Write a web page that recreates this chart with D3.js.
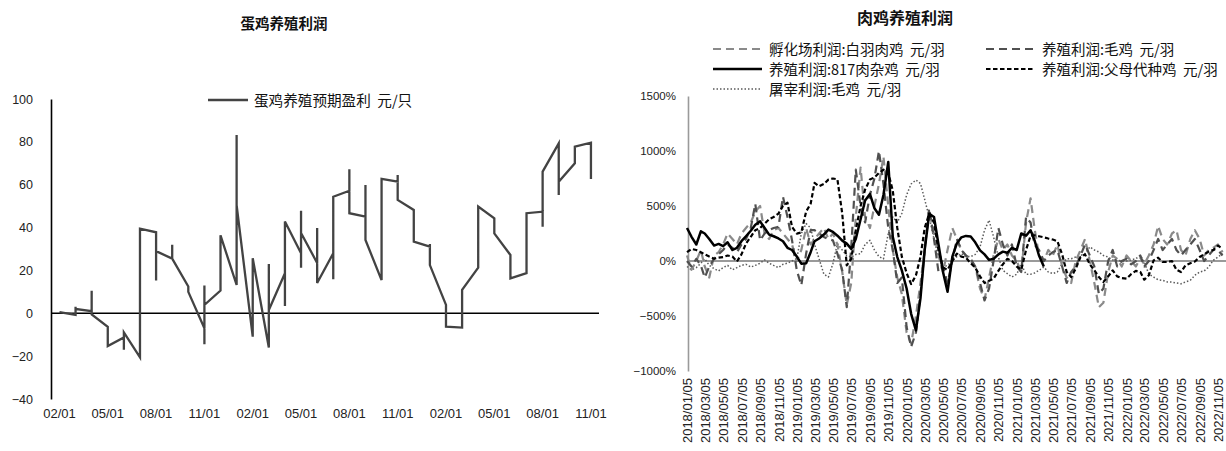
<!DOCTYPE html>
<html>
<head>
<meta charset="utf-8">
<script src="https://cdn.jsdelivr.net/npm/d3@7"></script>
<style>
  body { margin: 0; background: #fff; }
  svg { display: block; font-family: "Liberation Sans", Arial, sans-serif; }
  .cjk { font-family: "Noto Sans CJK SC", "Noto Sans", sans-serif; white-space: pre; }
</style>
</head>
<body>
<svg id="chart" width="1226" height="451"></svg>
<script>
// ---- left chart: egg layer profit (several weekly values per month) ----
const eggMonths = [
  "2020-02","2020-03","2020-04","2020-05","2020-06","2020-07","2020-08","2020-09","2020-10","2020-11","2020-12",
  "2021-01","2021-02","2021-03","2021-04","2021-05","2021-06","2021-07","2021-08","2021-09","2021-10","2021-11","2021-12",
  "2022-01","2022-02","2022-03","2022-04","2022-05","2022-06","2022-07","2022-08","2022-09","2022-10","2022-11"
];
const eggProfit = [
  [0.5], [-0.8, 3, 2], [1, 10.5, -0.5], [-6.3, -15.3], [-11.3, -17, -8.9], [-20.6, 39.5],
  [37.8, 15.3, 29], [25.5, 32, 25.5], [12.5, 10], [-7, 13, -14.4, 3.9], [10.6, 36.4],
  [13.2, 83.2, 50.5], [-10.9, 25.7], [-16, 23, 1.5], [18.7, 3.4, 42.8], [28, 21.3, 47.9, 37.5],
  [23.5, 39.8, 14.1], [28, 15.9, 54.4], [57.2, 67.2, 46.7], [45.1, 59.9, 34.2], [15.5, 62.7],
  [61.4, 64.5, 52.9], [48.2, 33.4], [31.1, 32.3, 22.5], [3.9, -6.2], [-6.7, 10.9], [21.3, 49.8],
  [44.3, 37.3], [27.2, 16.3], [18.7, 46.7], [47.4, 40.4, 66.1], [79.3, 55.2, 61.4], [70, 77.8], [79.6, 62.7]
];
const eggTicks = [-40, -20, 0, 20, 40, 60, 80, 100];

// ---- right chart: broiler profits, % (two readings per month, 2018-01 .. 2022-12) ----
const broilerTicks = [
  "2018/01/05","2018/03/05","2018/05/05","2018/07/05","2018/09/05","2018/11/05",
  "2019/01/05","2019/03/05","2019/05/05","2019/07/05","2019/09/05","2019/11/05",
  "2020/01/05","2020/03/05","2020/05/05","2020/07/05","2020/09/05","2020/11/05",
  "2021/01/05","2021/03/05","2021/05/05","2021/07/05","2021/09/05","2021/11/05",
  "2022/01/05","2022/03/05","2022/05/05","2022/07/05","2022/09/05","2022/11/05"
];
const pctTicks = [-1000, -500, 0, 500, 1000, 1500];

const hatchWhite = [
  50,-80, 0,100, -50,-150, 50,80, 150,250, 200,150, 250,300, 350,450, 500,250, 200,280, 300,250, 200,150,
  0,100, 300,150, 200,250, 300,200, 250,150, -100,-400, -200,400, 850,400, 300,500, 700,950, 500,100, -150,-300,
  -650,-750, -500,-200, 100,450, 250,50, -100,100, 300,200, 100,50, 0,-50, -250,-350, -150,50, 200,100, 150,50,
  0,-100, 350,570, 300,50, 0,100, 50,150, -50,-150, -200,0, 100,200, 0,-200, -420,-380, -100,50, 20,-50,
  50,0, -50,30, -30,50, 150,320, 200,150, 250,280, 100,50, 200,280, 200,50, 100,120, 150,80, null,null
];
const farmLive = [
  0,-50, 20,-40, -150,-50, 20,60, 100,150, 120,80, 150,200, 300,520, 188,250, 280,300, 310,584, 400,190,
  -85,-220, 67,280, 280,250, 219,200, 188,67, -85,-420, 128,830, 500,350, 600,750, 1000,700, 300,100, -200,-150,
  -600,-780, -650,-300, 100,480, 200,-100, -50,-200, 0,200, 100,50, 20,-50, -200,-358, -250,0, 300,150, 50,150,
  -50,-100, 400,350, 150,100, 0,50, 80,100, -50,-200, -100,-50, 50,150, 50,-50, -300,-250, 0,100, -50,0,
  20,-30, 0,50, -50,0, 100,200, 100,150, 200,100, 50,100, 150,200, 100,0, 50,100, 100,50, null,null
];
const farm817 = [
  300,220, 150,270, 250,200, 140,155, 135,170, 100,120, 180,225, 275,330, 360,300, 240,225, 205,180, 120,100,
  40,-24, -20,80, 180,205, 240,285, 265,230, 185,158, 110,200, 380,550, 610,480, 420,600, 900,220, 36,-85,
  -250,-480, -630,-340, 100,430, 400,150, -100,-280, 40,160, 215,228, 222,170, 97,60, 10,20, 60,85, 75,120,
  100,250, 230,280, 190,50, -50,null, null,null, null,null, null,null, null,null, null,null, null,null, null,null,
  null,null, null,null, null,null, null,null, null,null, null,null, null,null, null,null, null,null, null,null, null,null, null,null
];
const farmParent = [
  80,110, 100,80, 60,40, 20,30, 36,50, 40,-5, 60,158, 220,280, 300,340, 380,400, 431,500, 530,310,
  249,260, 450,520, 710,680, 700,740, 750,742, 431,-40, 20,280, 500,650, 740,760, 800,830, 800,640, 300,40,
  -110,-210, -130,36, 300,430, 350,100, -60,-80, 0,67, 40,30, -20,-60, -140,-200, -180,-160, -90,-30, 20,0,
  -50,-80, 100,230, 234,225, 215,204, 195,180, 60,-100, -146,-70, 36,60, -30,-85, -146,-190, -140,-85, -140,-155,
  -160,-120, -90,-100, -170,-130, 6,30, -9,-9, 0,-80, -100,-40, -20,-5, 36,60, 85,100, 140,110, null,null
];
const slaughterLive = [
  -50,-80, -60,-20, 20,-40, -70,-90, -60,-40, -80,-60, -40,-30, -55,-40, -20,10, -20,-40, -60,-30, -20,0,
  20,250, 340,300, 150,20, -120,-146, -24,158, 100,50, 36,60, 67,150, 188,100, 40,20, 250,400, 350,432,
  600,700, 736,705, 560,400, 200,36, -55,-40, 6,40, 67,40, 40,60, 128,280, 371,219, 36,-85, -115,-146,
  -120,-30, -120,-120, -110,-85, -55,-100, -115,-100, -24,20, 21,36, 50,67, 128,100, 82,50, 36,10, 6,0,
  0,10, 21,52, -9,-120, -146,-170, -176,-190, -192,-200, -207,-190, -176,-130, -100,-90, -55,6, 36,67, null,null
];

const svg = d3.select("#chart");

// ================= left chart =================
const eggX = d3.scaleBand().domain(eggMonths).range([51.4, 599]).paddingInner(0).paddingOuter(0);
const eggY = d3.scaleLinear().domain([-40, 100]).range([399, 99]);
const left = svg.append("g");

left.append("text").attr("class", "cjk")
  .attr("x", 284).attr("y", 29).attr("text-anchor", "middle")
  .attr("font-size", 14.5).attr("font-weight", "bold").attr("fill", "#111")
  .text("蛋鸡养殖利润");

left.append("g")
  .attr("transform", "translate(51,0)")
  .call(d3.axisLeft(eggY).tickValues(eggTicks).tickSize(0).tickSizeOuter(0).tickPadding(18))
  .call(g => g.select(".domain").attr("stroke", "#000").attr("stroke-width", 1.6))
  .call(g => g.selectAll("text").attr("font-size", 12.5).attr("fill", "#222").attr("font-family", "Liberation Sans, Arial, sans-serif"));

left.append("g")
  .attr("transform", "translate(0,401)")
  .call(d3.axisBottom(eggX)
    .tickValues(eggMonths.filter((d, i) => i % 3 === 0))
    .tickFormat(d => d.slice(5) + "/01")
    .tickSize(0).tickPadding(8))
  .call(g => g.select(".domain").remove())
  .call(g => g.selectAll("text").attr("font-size", 13).attr("fill", "#222").attr("font-family", "Liberation Sans, Arial, sans-serif"));

left.append("line")
  .attr("x1", 51).attr("x2", 599).attr("y1", eggY(0)).attr("y2", eggY(0))
  .attr("stroke", "#000").attr("stroke-width", 1.6);

const eggPoints = [];
eggMonths.forEach((m, i) => {
  eggProfit[i].forEach(v => eggPoints.push([eggX(m) + eggX.bandwidth() / 2, eggY(v)]));
});
left.append("path")
  .attr("d", d3.line()(eggPoints))
  .attr("fill", "none").attr("stroke", "#434343").attr("stroke-width", 2.3)
  .attr("stroke-linejoin", "miter");

// legend
left.append("line").attr("x1", 208).attr("x2", 248).attr("y1", 100).attr("y2", 100)
  .attr("stroke", "#434343").attr("stroke-width", 2.3);
left.append("text").attr("class", "cjk").attr("x", 254).attr("y", 105.5)
  .attr("font-size", 14.6).attr("fill", "#111").text("蛋鸡养殖预期盈利  元/只");

// ================= right chart =================
const parseDay = d3.timeParse("%Y/%m/%d");
const halfMonths = d3.timeMonth.range(new Date(2018, 0, 1), new Date(2023, 0, 1))
  .flatMap(m => [d3.timeDay.offset(m, 4), d3.timeDay.offset(m, 19)]);
const bx = d3.scaleTime().domain([parseDay("2018/01/05"), parseDay("2022/11/05")]).range([687, 1218]);
const by = d3.scaleLinear().domain([-1000, 1500]).range([371, 96]);
const right = svg.append("g");

right.append("text").attr("class", "cjk")
  .attr("x", 905).attr("y", 24).attr("text-anchor", "middle")
  .attr("font-size", 16).attr("font-weight", "bold").attr("fill", "#111")
  .text("肉鸡养殖利润");

right.append("g")
  .attr("transform", "translate(688,0)")
  .call(d3.axisLeft(by).tickValues(pctTicks).tickSize(0).tickSizeOuter(0).tickPadding(12)
    .tickFormat(d => (d < 0 ? "\u2212" : "") + Math.abs(d) + "%"))
  .call(g => g.select(".domain").attr("stroke", "#9a9a9a").attr("stroke-width", 1.6))
  .call(g => g.selectAll("text").attr("font-size", 11.5).attr("fill", "#222").attr("font-family", "Liberation Sans, Arial, sans-serif"));

right.append("g")
  .attr("transform", "translate(0,373)")
  .call(d3.axisBottom(bx).tickValues(broilerTicks.map(parseDay))
    .tickFormat(d3.timeFormat("%Y/%m/%d")).tickSize(0))
  .call(g => g.select(".domain").remove())
  .call(g => g.selectAll("text")
    .attr("transform", "rotate(-90)").attr("x", -5).attr("y", 0).attr("dy", "0.35em")
    .attr("text-anchor", "end")
    .attr("font-size", 13).attr("fill", "#222").attr("font-family", "Liberation Sans, Arial, sans-serif"));

right.append("line")
  .attr("x1", 688).attr("x2", 1226).attr("y1", by(0)).attr("y2", by(0))
  .attr("stroke", "#9a9a9a").attr("stroke-width", 2);

const series = [
  { name: "屠宰利润:毛鸡  元/羽", values: slaughterLive, color: "#5a5a5a", width: 1.5, dash: "1.5,2" },
  { name: "孵化场利润:白羽肉鸡  元/羽", values: hatchWhite, color: "#8a8a8a", width: 2.2, dash: "8,5" },
  { name: "养殖利润:毛鸡  元/羽", values: farmLive, color: "#505050", width: 2.2, dash: "8,5" },
  { name: "养殖利润:父母代种鸡  元/羽", values: farmParent, color: "#000", width: 2.2, dash: "4.5,2.5" },
  { name: "养殖利润:817肉杂鸡  元/羽", values: farm817, color: "#000", width: 2.5, dash: null }
];

const bline = d3.line()
  .defined(d => d[1] !== null)
  .x(d => bx(d[0])).y(d => by(d[1]));

series.forEach(s => {
  right.append("path")
    .datum(halfMonths.map((d, i) => [d, s.values[i]]))
    .attr("d", bline)
    .attr("fill", "none").attr("stroke", s.color).attr("stroke-width", s.width)
    .attr("stroke-dasharray", s.dash).attr("stroke-linejoin", "round");
});

// legend
const legendItems = [
  { s: series[1], x: 713, y: 49 },
  { s: series[2], x: 986, y: 49 },
  { s: series[4], x: 713, y: 69 },
  { s: series[3], x: 986, y: 69 },
  { s: series[0], x: 713, y: 89 }
];
legendItems.forEach(({ s, x, y }) => {
  right.append("line").attr("x1", x).attr("x2", x + 49).attr("y1", y).attr("y2", y)
    .attr("stroke", s.color).attr("stroke-width", s.width).attr("stroke-dasharray", s.dash);
  right.append("text").attr("class", "cjk").attr("x", x + 56).attr("y", y + 5.5)
    .attr("font-size", 14.5).attr("fill", "#111").text(s.name);
});
</script>
</body>
</html>
